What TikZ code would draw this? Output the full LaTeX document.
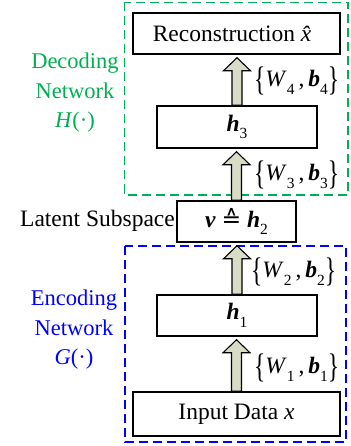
\documentclass[tikz,border=0pt]{standalone}
\usepackage{fontspec}
\usepackage{graphicx}
\setmainfont{Liberation Serif}
\newfontfamily\symfont{DejaVu Sans}
\usetikzlibrary{calc}

\definecolor{decgreen}{RGB}{0,176,80}
\definecolor{encblue}{RGB}{0,0,255}
\definecolor{liftfill}{RGB}{216,220,196}

% bold italic vector symbols and small lowered indices
\newcommand{\bvec}[1]{\textbf{\textit{#1}}}
\newcommand{\idx}[1]{\raisebox{-0.32em}{\fontsize{15.5}{15.5}\selectfont #1}}
\newcommand{\tallbrace}[1]{\raisebox{-0.16em}{\scalebox{1}[1.45]{#1}}}
\newcommand{\params}[1]{\tallbrace{\{}\textit{W}\idx{#1}\,,\,\bvec{b}\idx{#1}\tallbrace{\}}}
\newcommand{\defeq}{{\symfont ≙}}

% hollow block arrow from the top of node #1 up to just below node #2
\newcommand{\liftarrow}[2]{%
  \path[liftstyle] let \p1=(#1.north), \p2=(#2.south) in
    (\x1-5pt,\y1) -- (\x1-5pt,\y2-16pt) -- (\x1-13.5pt,\y2-16pt) -- (\x1,\y2-3pt)
    -- (\x1+13.5pt,\y2-16pt) -- (\x1+5pt,\y2-16pt) -- (\x1+5pt,\y1) -- cycle;}

\tikzset{
  layer/.style={draw=black, line width=1.5pt, fill=white, inner sep=0pt,
    font=\fontsize{23.5}{28}\selectfont},
  liftstyle/.style={draw=black, line width=1.1pt, fill=liftfill},
  plabel/.style={anchor=west, inner sep=0pt, font=\fontsize{23.5}{28}\selectfont},
  sidelabel/.style={align=center, inner sep=0pt, font=\fontsize{22.5}{29.5}\selectfont},
  netbox/.style={line width=1.6pt, dash pattern=on 9pt off 5pt},
}

\begin{document}
\begin{tikzpicture}[x=1pt, y=-1pt]
\useasboundingbox (0,0) rectangle (350,446);

% dashed frames of the two networks
\draw[netbox, decgreen] (124.5,2.5) rectangle (348,195);
\draw[netbox, encblue] (125,246) rectangle (346,442);

% stacked layers
\node[layer, minimum width=207pt, minimum height=41pt] (recon) at (236.5,33.5) {Reconstruction \textit{\^{x}}};
\node[layer, minimum width=160pt, minimum height=42pt] (h3) at (237,127) {\bvec{h}\idx{3}};
\node[layer, minimum width=119pt, minimum height=41pt] (v) at (236.5,221.5) {\bvec{v}\hspace{0.25em}\defeq\hspace{0.25em}\bvec{h}\idx{2}};
\node[layer, minimum width=160pt, minimum height=41pt] (h1) at (237,315.5) {\bvec{h}\idx{1}};
\node[layer, minimum width=207pt, minimum height=44pt] (input) at (236.5,414) {Input Data \textit{x}};

% mappings between layers
\liftarrow{h3}{recon}
\liftarrow{v}{h3}
\liftarrow{h1}{v}
\liftarrow{input}{h1}

% parameter sets
\node[plabel] (p4) at (254,81) {\params{4}};
\node[plabel] (p3) at (254,175) {\params{3}};
\node[plabel] (p2) at (251,272) {\params{2}};
\node[plabel] (p1) at (254,368) {\params{1}};

% side captions
\node[plabel, anchor=east, text=black] (latent) at (175,221) {Latent Subspace};
\node[sidelabel, text=decgreen] (declab) at (75,93) {Decoding\\Network\\\textit{H}(·)};
\node[sidelabel, text=encblue] (enclab) at (74,330) {Encoding\\Network\\\textit{G}(·)};
\end{tikzpicture}
\end{document}
